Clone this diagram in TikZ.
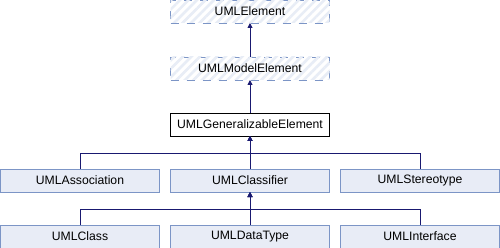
\documentclass[tikz,border=0pt]{standalone}
\usepackage{fontspec}
\setmainfont{Liberation Sans}
\usetikzlibrary{arrows.meta,positioning,patterns.meta}
\definecolor{edgeblue}{RGB}{25,25,112}
\definecolor{boxfill}{RGB}{232,236,246}
\definecolor{boxline}{RGB}{124,149,198}
\definecolor{hatchline}{RGB}{232,237,246}
\begin{document}
\begin{tikzpicture}[
  x=1pt, y=1pt, font=\fontsize{12.2}{14}\selectfont, >={Triangle[length=5pt,width=5pt]},
  node distance=33pt and 11pt,
  cls/.style={draw=boxline, fill=boxfill, line width=0.9pt, minimum width=159pt, minimum height=23pt,
    inner sep=0pt, outer sep=0pt, align=center},
  cur/.style={cls, draw=black, fill=white},
  undoc/.style={cls, dash pattern=on 8pt off 8pt, fill=white,
    postaction={pattern={Lines[angle=45,distance=6pt,line width=2.6pt]}, pattern color=hatchline}},
  edge/.style={->, draw=edgeblue, line width=0.9pt}]
\useasboundingbox (0,0) rectangle (500,-248);
\node[undoc] (elem) at (250,-11.5) {UMLElement};
\node[undoc, below=34pt of elem] (model) {UMLModelElement};
\node[cur, below=of model] (gen) {UMLGeneralizableElement};
\node[cls, below=of gen] (classifier) {UMLClassifier};
\node[cls, left=of classifier] (assoc) {UMLAssociation};
\node[cls, right=of classifier] (stereo) {UMLStereotype};
\node[cls, below=of classifier] (dtype) {UMLDataType};
\node[cls, left=of dtype] (class) {UMLClass};
\node[cls, right=of dtype] (iface) {UMLInterface};
% junctions of the inheritance lines
\coordinate[below=17pt of gen] (j1);
\coordinate[below=17pt of classifier] (j2);
\draw[edge] (model) -- (elem);
\draw[edge] (gen) -- (model);
\draw[edge] (assoc.north) |- (j1) -- (gen.south);
\draw[edge] (classifier) -- (gen);
\draw[edge] (stereo.north) |- (j1) -- (gen.south);
\draw[edge] (class.north) |- (j2) -- (classifier.south);
\draw[edge] (dtype) -- (classifier);
\draw[edge] (iface.north) |- (j2) -- (classifier.south);
\end{tikzpicture}
\end{document}
